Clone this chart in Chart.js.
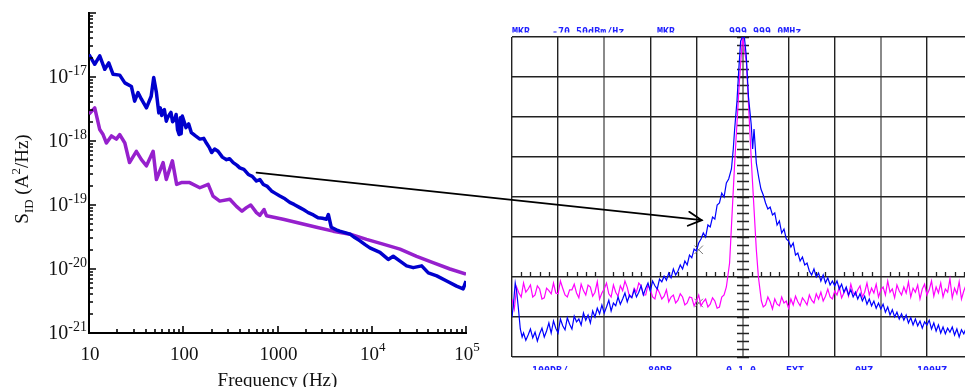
<!DOCTYPE html>
<html><head><meta charset="utf-8">
<script src="https://cdn.jsdelivr.net/npm/chart.js@4"></script>
<style>
html,body{margin:0;padding:0;background:#fff;overflow:hidden;width:965px;height:387px;}
#wrap{position:relative;width:965px;height:387px;overflow:hidden;}
#left{position:absolute;left:0;top:0;width:480px;height:387px;}
#right{position:absolute;left:505px;top:0;width:475px;height:387px;}
#over{position:absolute;left:0;top:0;width:965px;height:387px;pointer-events:none;}
</style></head><body>
<div id="wrap">
<canvas id="left" width="480" height="387"></canvas>
<canvas id="right" width="475" height="387"></canvas>
<canvas id="over" width="965" height="387"></canvas>
</div>
<script>
// ---------- Left panel data (log-log noise spectra) ----------
const blueFreq=[10,11.5,13,14.7,16.2,18,21.2,24,28.2,30.5,33.1,36,40.7,45.7,48.6,51.9,55,57,59,61.1,63,66.1,68,71.9,74,77,81.3,84,87,90.4,93,95,97.7,107,114,122,135,150,165,176,190,200,215,234,260,288,310,339,370,398,440,490,540,598,650,708,780,863,950,1059,1200,1349,1500,1726,1900,2118,2400,2692,3000,3311,3467,3715,4200,4571,5200,5888,6600,7499,8500,9550,12218,14962,16904,19953,23442,27542,33884,39811,48978,62373,79433,93325,100000];
const blueSid=[2.24e-17,1.58e-17,2.14e-17,1.32e-17,1.66e-17,1.10e-17,1.07e-17,8.1e-18,7.1e-18,4.2e-18,5.7e-18,4.5e-18,3.3e-18,5.0e-18,9.8e-18,5.7e-18,2.75e-18,3.3e-18,2.5e-18,2.95e-18,3.1e-18,2.04e-18,2.3e-18,2.63e-18,2.8e-18,2.0e-18,2.19e-18,2.6e-18,1.5e-18,1.26e-18,2.3e-18,1.3e-18,2.45e-18,1.62e-18,1.85e-18,1.35e-18,1.2e-18,1.07e-18,1.1e-18,9.3e-19,7.8e-19,6.6e-19,7.5e-19,6.9e-19,5.6e-19,5.1e-19,5.3e-19,4.6e-19,4.2e-19,3.8e-19,3.6e-19,3.0e-19,2.8e-19,2.37e-19,2.5e-19,2.09e-19,1.95e-19,1.66e-19,1.52e-19,1.38e-19,1.25e-19,1.10e-19,1.02e-19,9.1e-20,8.4e-20,7.6e-20,7.0e-20,6.3e-20,6.2e-20,6.0e-20,7.1e-20,4.5e-20,4.1e-20,3.9e-20,3.7e-20,3.5e-20,3.1e-20,2.75e-20,2.4e-20,2.14e-20,1.82e-20,1.41e-20,1.58e-20,1.33e-20,1.12e-20,1.05e-20,1.12e-20,8.7e-21,7.8e-21,6.5e-21,5.4e-21,4.9e-21,6.5e-21];
const purpleFreq=[10,11.5,13,14.1,15.3,17.3,19.5,21.2,24,26.9,31.8,36,40.7,47.9,51.9,61.1,66.1,76.7,85.1,95.5,117,150,184,207,244,312,367,420,468,520,598,650,720,764,1148,1726,2594,3890,5888,8810,13183,19953,29923,44668,67608,100000];
const purpleSid=[2.63e-18,3.3e-18,1.51e-18,1.26e-18,9.3e-19,1.2e-18,1.07e-18,1.26e-18,9.3e-19,4.6e-19,6.9e-19,5.1e-19,4.1e-19,6.9e-19,2.5e-19,4.6e-19,2.5e-19,4.9e-19,2.1e-19,2.24e-19,2.24e-19,1.86e-19,2.1e-19,1.38e-19,1.15e-19,1.23e-19,9.5e-20,8.0e-20,9.1e-20,1.0e-19,7.6e-20,6.9e-20,8.5e-20,6.8e-20,6.0e-20,5.2e-20,4.5e-20,3.9e-20,3.5e-20,2.9e-20,2.45e-20,2.04e-20,1.58e-20,1.26e-20,1.0e-20,8.3e-21];
const xTickVals=[10,100,1000,10000,100000];
const xTickBase=['10','100','1000','10','10'];
const xTickExp=['','','','4','5'];
const yTickVals=[1e-21,1e-20,1e-19,1e-18,1e-17];
const yTickExp=['-21','-20','-19','-18','-17'];

// ---------- Right panel data (analyzer screen, in divisions) ----------
const magX=[-5.0,-4.95,-4.9,-4.85,-4.8,-4.75,-4.7,-4.65,-4.6,-4.55,-4.5,-4.45,-4.4,-4.35,-4.3,-4.25,-4.2,-4.15,-4.1,-4.05,-4.0,-3.95,-3.9,-3.85,-3.8,-3.75,-3.7,-3.65,-3.6,-3.55,-3.5,-3.45,-3.4,-3.35,-3.3,-3.25,-3.2,-3.15,-3.1,-3.05,-3.0,-2.95,-2.9,-2.85,-2.8,-2.75,-2.7,-2.65,-2.6,-2.55,-2.5,-2.45,-2.4,-2.35,-2.3,-2.25,-2.2,-2.15,-2.1,-2.05,-2.0,-1.95,-1.9,-1.85,-1.8,-1.75,-1.7,-1.65,-1.6,-1.55,-1.5,-1.45,-1.4,-1.35,-1.3,-1.25,-1.2,-1.15,-1.1,-1.05,-1.0,-0.95,-0.9,-0.85,-0.8,-0.75,-0.7,-0.65,-0.6,-0.55,-0.5,
 -0.45,-0.4,-0.35,-0.28,-0.17,-0.065,0,0.086,0.194,0.3,0.345,0.41,
 0.45,0.5,0.55,0.6,0.65,0.7,0.75,0.8,0.85,0.9,0.95,1.0,1.05,1.1,1.15,1.2,1.25,1.3,1.35,1.4,1.45,1.5,1.55,1.6,1.65,1.7,1.75,1.8,1.85,1.9,1.95,2.0,2.05,2.1,2.15,2.2,2.25,2.3,2.35,2.4,2.45,2.5,2.55,2.6,2.65,2.7,2.75,2.8,2.85,2.9,2.95,3.0,3.05,3.1,3.15,3.2,3.25,3.3,3.35,3.4,3.45,3.5,3.55,3.6,3.65,3.7,3.75,3.8,3.85,3.9,3.95,4.0,4.05,4.1,4.15,4.2,4.25,4.3,4.35,4.4,4.45,4.5,4.55,4.6,4.65,4.7,4.75,4.8,4.85,4.9,4.95,5.0];
const magY=[1.45,1.2,1.75,1.6,1.5,1.85,1.62,1.7,1.8,1.5,1.55,1.78,1.7,1.45,1.48,1.72,1.66,1.58,1.85,1.6,1.58,1.9,1.72,1.55,1.5,1.68,1.68,1.82,1.6,1.48,1.82,1.66,1.55,1.8,1.75,1.52,1.62,1.88,1.45,1.6,1.7,1.85,1.58,1.5,1.8,1.62,1.52,1.78,1.66,1.9,1.74,1.5,1.5,1.72,1.62,1.85,1.78,1.55,1.55,1.8,1.68,1.5,1.45,1.72,1.6,1.45,1.52,1.68,1.38,1.5,1.55,1.35,1.42,1.58,1.5,1.3,1.35,1.5,1.48,1.28,1.4,1.55,1.28,1.38,1.45,1.25,1.32,1.48,1.4,1.22,1.25,
 1.5,1.55,1.75,2.35,4.85,6.93,8.0,7.35,4.85,2.68,2.0,1.4,
 1.25,1.3,1.5,1.38,1.2,1.45,1.32,1.28,1.5,1.35,1.4,1.22,1.45,1.3,1.52,1.38,1.28,1.48,1.4,1.3,1.55,1.42,1.35,1.58,1.45,1.62,1.4,1.52,1.7,1.5,1.45,1.65,1.55,1.75,1.48,1.6,1.72,1.52,1.82,1.6,1.55,1.68,1.78,1.5,1.62,1.85,1.55,1.72,1.6,1.82,1.5,1.68,1.75,1.55,1.9,1.62,1.7,1.48,1.8,1.65,1.55,1.75,1.6,1.88,1.5,1.72,1.62,1.8,1.45,1.7,1.82,1.55,1.68,1.9,1.52,1.75,1.6,1.85,1.5,1.7,1.62,1.95,1.48,1.72,1.58,1.88,1.45,1.65,1.8,1.52,1.7,1.6];
const bluX=[-5.0,-4.97,-4.93,-4.9,-4.86,-4.82,-4.78,
 -4.75,-4.7,-4.65,-4.6,-4.55,-4.5,-4.45,-4.4,-4.35,-4.3,-4.25,-4.2,-4.15,-4.1,-4.05,-4.0,-3.95,-3.9,-3.85,-3.8,-3.75,-3.7,-3.65,-3.6,-3.55,-3.5,-3.45,-3.4,-3.35,-3.3,-3.25,-3.2,-3.15,-3.1,-3.05,-3.0,-2.95,-2.9,-2.85,-2.8,-2.75,-2.7,-2.65,-2.6,-2.55,-2.5,-2.45,-2.4,-2.35,-2.3,-2.25,-2.2,-2.15,-2.1,-2.05,-2.0,-1.95,-1.9,-1.85,-1.8,-1.75,-1.7,-1.65,-1.6,-1.55,-1.5,-1.45,-1.4,-1.35,-1.3,-1.25,-1.2,-1.15,-1.1,-1.05,-1.0,
 -0.95,-0.9,-0.85,-0.8,-0.75,-0.7,-0.65,-0.6,-0.55,-0.5,-0.45,-0.4,-0.35,-0.3,-0.24,-0.2,-0.17,-0.12,-0.08,-0.04,0,0.04,0.08,0.13,0.19,0.22,0.25,0.3,0.35,0.4,0.45,
 0.5,0.55,0.6,0.65,0.7,0.75,0.8,0.85,0.9,0.95,1.0,1.05,1.1,1.15,1.2,1.25,1.3,1.35,1.4,1.45,1.5,1.55,1.6,1.65,1.7,1.75,1.8,1.85,1.9,1.95,2.0,2.05,2.1,2.15,2.2,2.25,2.3,2.35,2.4,2.45,2.5,2.55,2.6,2.65,2.7,2.75,2.8,2.85,2.9,2.95,3.0,3.05,3.1,3.15,3.2,3.25,3.3,3.35,3.4,3.45,3.5,3.55,3.6,3.65,3.7,3.75,3.8,3.85,3.9,3.95,4.0,4.05,4.1,4.15,4.2,4.25,4.3,4.35,4.4,4.45,4.5,4.55,4.6,4.65,4.7,4.75,4.8,4.85,4.9,4.95,5.0];
const bluY=[1.0,1.3,1.85,1.65,1.2,0.7,0.5,
 0.6,0.42,0.55,0.7,0.48,0.62,0.4,0.58,0.72,0.5,0.65,0.85,0.6,0.9,0.72,0.6,0.95,0.78,0.68,0.98,0.82,0.7,1.02,0.88,0.95,0.8,1.1,0.92,1.05,0.85,1.15,1.0,1.22,1.08,1.3,1.1,1.25,1.42,1.15,1.35,1.28,1.5,1.32,1.45,1.6,1.38,1.55,1.48,1.68,1.5,1.62,1.78,1.55,1.72,1.85,1.65,1.9,1.78,1.7,1.95,1.88,2.02,1.92,2.1,1.98,2.2,2.05,2.15,2.3,2.2,2.4,2.3,2.55,2.48,2.7,2.65,
 2.85,2.95,3.1,3.0,3.3,3.25,3.5,3.45,3.8,3.85,4.1,4.0,4.35,4.45,4.7,5.2,5.7,6.4,7.2,7.9,8.0,8.0,7.55,6.5,5.8,5.2,5.7,4.85,4.5,4.2,4.05,
 3.85,3.7,3.75,3.55,3.6,3.3,3.4,3.1,3.2,2.95,2.9,2.75,2.85,2.55,2.6,2.4,2.5,2.3,2.35,2.15,2.05,2.2,2.0,2.1,1.9,2.05,1.85,1.98,1.8,1.9,1.78,1.9,1.7,1.82,1.62,1.75,1.55,1.68,1.5,1.62,1.45,1.58,1.4,1.52,1.32,1.45,1.28,1.4,1.22,1.35,1.2,1.32,1.12,1.25,1.05,1.18,1.0,1.12,0.95,1.08,0.92,1.05,0.85,0.98,0.8,0.95,0.78,0.9,0.72,0.88,0.8,0.92,0.7,0.85,0.65,0.8,0.6,0.75,0.58,0.72,0.62,0.75,0.55,0.7,0.5,0.68,0.58,0.72,0.52,0.66,0.62];
const markX=[-0.95,-0.95];
const markY=[2.68,1.35];
const topTexts=['MKR','-70.50dBm/Hz','MKR','999.999 0MHz'];
const bottomTexts=['100DB/','80DB','0.1.0','EXT','0HZ','100HZ'];
// arrow: from a point on the blue left trace to a point on the blue right trace
const arrowFrom=[600,3.2e-19];
const arrowTo=[-0.885,3.42];

const SERIF='"Liberation Serif","DejaVu Serif",serif';

function drawPow(ctx, base, exp, x, y, align, f1, f2, rise){
  ctx.font=f1; const w1=ctx.measureText(base).width;
  let w2=0; if(exp){ctx.font=f2; w2=ctx.measureText(exp).width;}
  const tot=w1+w2;
  const sx= align==='center'? x-tot/2 : align==='right'? x-tot : x;
  ctx.textAlign='left'; ctx.textBaseline='alphabetic';
  ctx.font=f1; ctx.fillText(base,sx,y);
  if(exp){ctx.font=f2; ctx.fillText(exp,sx+w1,y-rise);}
}

const leftDeco={
  id:'leftDeco',
  afterDraw(chart){
    const {ctx, chartArea:a, scales:{x,y}}=chart;
    ctx.save();
    ctx.strokeStyle='#000'; ctx.lineWidth=1.6;
    ctx.beginPath();
    for(let d=1; d<=5; d++){
      for(let m=1;m<=9;m++){
        const v=m*Math.pow(10,d); if(v>100000.5) break;
        const px=Math.round(x.getPixelForValue(v));
        const len=(m===1)?7:4;
        ctx.moveTo(px,a.bottom); ctx.lineTo(px,a.bottom-len);
      }
    }
    for(let e=-21; e<=-16; e++){
      for(let m=1;m<=9;m++){
        const v=m*Math.pow(10,e); if(v>1.0001e-16) break;
        const py=Math.round(y.getPixelForValue(v));
        const len=(m===1)?7:4;
        ctx.moveTo(a.left,py); ctx.lineTo(a.left+len,py);
      }
    }
    ctx.stroke();
    ctx.fillStyle='#111';
    const f1='19px '+SERIF, f2='13px '+SERIF;
    xTickVals.forEach((v,i)=>{
      drawPow(ctx,xTickBase[i],xTickExp[i],x.getPixelForValue(v)+1,a.bottom+27,'center',f1,f2,9);
    });
    const f1y='20px '+SERIF, f2y='14px '+SERIF;
    yTickVals.forEach((v,i)=>{
      drawPow(ctx,'10',yTickExp[i],a.left-2,y.getPixelForValue(v)+6,'right',f1y,f2y,8);
    });
    ctx.font='19px '+SERIF; ctx.textAlign='center'; ctx.textBaseline='alphabetic';
    ctx.fillText('Frequency (Hz)',(a.left+a.right)/2,a.bottom+53);
    ctx.save();
    ctx.translate(28,(a.top+a.bottom)/2+6);
    ctx.rotate(-Math.PI/2);
    const parts=[['S',f1,0],['ID',f2,5],[' (A',f1,0],['2',f2,-8],['/Hz)',f1,0]];
    let tot=0; parts.forEach(p=>{ctx.font=p[1]; tot+=ctx.measureText(p[0]).width;});
    let cx=-tot/2; ctx.textAlign='left';
    parts.forEach(p=>{ctx.font=p[1]; ctx.fillText(p[0],cx,p[2]); cx+=ctx.measureText(p[0]).width;});
    ctx.restore();
    ctx.restore();
  }
};

const L=new Chart(document.getElementById('left'),{
  type:'line',
  data:{datasets:[
    {data:blueFreq.map((f,i)=>({x:f,y:blueSid[i]})),borderColor:'rgb(0,0,205)',borderWidth:3.5,pointRadius:0,tension:0,borderJoinStyle:'round'},
    {data:purpleFreq.map((f,i)=>({x:f,y:purpleSid[i]})),borderColor:'rgb(150,32,205)',borderWidth:3.5,pointRadius:0,tension:0,borderJoinStyle:'round'}
  ]},
  options:{
    responsive:false,animation:false,devicePixelRatio:1,
    layout:{padding:{left:89,right:14,top:13,bottom:54}},
    plugins:{legend:{display:false},tooltip:{enabled:false}},
    scales:{
      x:{type:'logarithmic',min:10,max:100000,ticks:{display:false},grid:{display:false,drawTicks:false},border:{display:true,color:'#000',width:2}},
      y:{type:'logarithmic',min:1e-21,max:1e-16,ticks:{display:false},grid:{display:false,drawTicks:false},border:{display:true,color:'#000',width:2}}
    }
  },
  plugins:[leftDeco]
});

const rightDeco={
  id:'rightDeco',
  beforeDatasetsDraw(chart){
    const {ctx, chartArea:a, scales:{x,y}}=chart;
    ctx.save();
    ctx.strokeStyle='#222'; ctx.lineWidth=1.3;
    ctx.beginPath();
    const cx=Math.round(x.getPixelForValue(0));
    for(let k=0;k<=40;k++){
      const py=Math.round(y.getPixelForValue(k*0.2))+0.5;
      ctx.moveTo(cx-6,py); ctx.lineTo(cx+6,py);
    }
    const hy=Math.round(y.getPixelForValue(2));
    for(let k=-25;k<=25;k++){
      if(k%5===0) continue;
      const px=Math.round(x.getPixelForValue(k*0.2))+0.5;
      ctx.moveTo(px,hy); ctx.lineTo(px,hy-5);
    }
    ctx.stroke();
    ctx.restore();
  },
  afterDraw(chart){
    const {ctx}=chart;
    ctx.save();
    ctx.fillStyle='#2020ff';
    ctx.font='bold 10px "DejaVu Sans Mono",monospace';
    ctx.textAlign='left'; ctx.textBaseline='alphabetic';
    ctx.save(); ctx.beginPath(); ctx.rect(0,0,chart.width,32.5); ctx.clip();
    const tx=[7,47,152,224];
    topTexts.forEach((t,i)=>ctx.fillText(t,tx[i],34.5));
    ctx.restore();
    ctx.save(); ctx.beginPath(); ctx.rect(0,365,chart.width,5); ctx.clip();
    const bx=[27,143,221,281,350,412];
    bottomTexts.forEach((t,i)=>ctx.fillText(t,bx[i],373.5));
    ctx.restore();
    ctx.restore();
  }
};

const grayLines=[-3,0,3];
const R=new Chart(document.getElementById('right'),{
  type:'scatter',
  data:{datasets:[
    {data:bluX.map((v,i)=>({x:v,y:bluY[i]})),showLine:true,borderColor:'rgb(0,0,255)',borderWidth:1.2,pointRadius:0,tension:0},
    {data:magX.map((v,i)=>({x:v,y:magY[i]})),showLine:true,borderColor:'rgb(255,0,255)',borderWidth:1.2,pointRadius:0,tension:0},
    {data:markX.map((v,i)=>({x:v,y:markY[i]})),showLine:false,pointStyle:'crossRot',pointRadius:6,borderColor:'#777',borderWidth:1,backgroundColor:'#777'}
  ]},
  options:{
    responsive:false,animation:false,devicePixelRatio:1,
    layout:{padding:{left:6,right:6,top:37,bottom:30}},
    plugins:{legend:{display:false},tooltip:{enabled:false}},
    scales:{
      x:{type:'linear',min:-5,max:5,ticks:{display:false,stepSize:1},border:{display:false},
         grid:{drawTicks:false,color:c=>grayLines.includes(c.tick&&c.tick.value)?'#8a8a8a':'#222',lineWidth:c=>grayLines.includes(c.tick&&c.tick.value)?2:1.4}},
      y:{type:'linear',min:0,max:8,ticks:{display:false,stepSize:1},border:{display:false},
         grid:{drawTicks:false,color:'#222',lineWidth:1.4}}
    }
  },
  plugins:[rightDeco]
});

// ---------- arrow linking the two panels ----------
(function(){
  const o=document.getElementById('over').getContext('2d');
  const p0={x:L.scales.x.getPixelForValue(arrowFrom[0]),y:L.scales.y.getPixelForValue(arrowFrom[1])};
  const p1={x:505+R.scales.x.getPixelForValue(arrowTo[0]),y:R.scales.y.getPixelForValue(arrowTo[1])};
  o.strokeStyle='#000'; o.lineWidth=1.8; o.lineCap='round';
  o.beginPath(); o.moveTo(p0.x,p0.y); o.lineTo(p1.x,p1.y); o.stroke();
  const ang=Math.atan2(p1.y-p0.y,p1.x-p0.x);
  const hl=15, ha=Math.PI/6.5;
  o.beginPath();
  o.moveTo(p1.x-hl*Math.cos(ang-ha),p1.y-hl*Math.sin(ang-ha));
  o.lineTo(p1.x,p1.y);
  o.lineTo(p1.x-hl*Math.cos(ang+ha),p1.y-hl*Math.sin(ang+ha));
  o.stroke();
})();
</script>
</body></html>
